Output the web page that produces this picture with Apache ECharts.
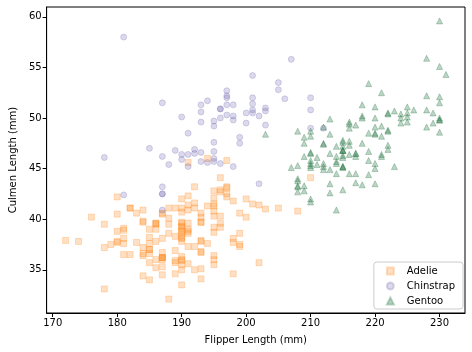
<!DOCTYPE html>
<html>
<head>
<meta charset="utf-8">
<script src="https://cdn.jsdelivr.net/npm/echarts@6/dist/echarts.min.js"></script>
<style>
  html, body { margin: 0; padding: 0; background: #fff; }
  #chart { width: 472px; height: 352px; }
</style>
</head>
<body>
<div id="chart"></div>
<script>
// Adelie
const adelieFlipper = [181,186,195,193,190,181,195,193,190,186,180,182,191,198,185,195,197,184,194,
  174,180,189,185,180,187,183,187,172,180,
  178,178,188,184,195,196,190,180,181,184,182,195,186,196,185,190,182,179,190,191,
  186,188,190,200,187,191,186,193,181,194,185,195,185,192,184,192,195,188,
  190,198,190,190,196,197,190,195,191,184,187,195,189,196,187,193,
  191,194,190,189,189,190,202,205,185,186,187,208,190,196,178,192,
  192,203,183,190,193,184,199,190,181,197,198,191,193,197,191,196,
  188,199,189,189,187,198,176,202,186,199,191,195,191,210,190,197,
  193,199,187,190,191,200,185,193,193,187,188,190,192,185,190,184,195,193,187,201];
const adelieCulmen = [39.1,39.5,40.3,36.7,39.3,38.9,39.2,34.1,42.0,37.8,37.8,41.1,38.6,34.6,36.6,38.7,42.5,34.4,46.0,
  37.8,37.7,35.9,38.2,38.8,35.3,40.6,40.5,37.9,40.5,
  39.5,37.2,39.5,40.9,36.4,39.2,38.8,42.2,37.6,39.8,36.5,40.8,36.0,44.1,37.0,39.6,41.1,37.5,36.0,42.3,
  39.6,40.1,35.0,42.0,34.5,41.4,39.0,40.6,36.5,37.6,35.7,41.3,37.6,41.1,36.4,41.6,35.5,41.1,
  35.9,41.8,33.5,39.7,39.6,45.8,35.5,42.8,40.9,37.2,36.2,42.1,34.6,42.9,36.7,35.1,
  37.3,41.3,36.3,36.9,38.3,38.9,35.7,41.1,34.0,39.6,36.2,40.8,38.1,40.3,33.1,43.2,
  35.0,41.0,37.7,37.8,37.9,39.7,38.6,38.2,38.1,43.2,38.1,45.6,39.7,42.2,39.6,42.7,
  38.6,37.3,35.7,41.1,36.2,37.7,40.2,41.4,35.2,40.6,38.8,41.5,39.0,44.1,38.5,43.1,
  36.8,37.5,38.1,41.1,35.6,40.2,37.0,39.7,40.2,40.6,32.1,40.7,37.3,39.0,39.2,36.6,36.0,37.8,36.0,41.5];

// Chinstrap
const chinstrapFlipper = [192,196,193,188,197,198,178,197,195,198,193,194,185,201,190,201,197,181,190,195,
  181,191,187,193,195,197,200,200,191,205,187,201,187,203,195,199,195,210,192,205,
  210,187,196,196,196,201,190,212,187,198,199,201,193,203,187,197,191,203,202,194,
  206,189,195,207,202,193,210,198];
const chinstrapCulmen = [46.5,50.0,51.3,45.4,52.7,45.2,46.1,51.3,46.0,51.3,46.6,51.7,47.0,52.0,45.9,50.5,50.3,58.0,46.4,49.2,
  42.4,48.5,43.2,50.6,46.7,52.0,50.5,49.5,46.4,52.8,40.9,54.2,42.5,51.0,49.7,47.5,47.6,52.0,46.9,53.5,
  49.0,46.2,50.9,45.5,50.9,50.8,50.1,49.0,51.5,49.8,48.1,51.4,45.7,50.7,42.5,52.2,45.2,49.3,50.2,45.6,
  51.9,46.8,45.7,55.8,43.5,49.6,50.8,50.2];

// Gentoo
const gentooFlipper = [211,230,210,218,215,210,211,219,209,215,214,216,214,213,210,217,210,221,209,222,
  218,215,213,215,215,215,216,215,210,220,222,209,207,230,220,220,213,219,208,208,
  208,225,210,216,222,217,210,225,213,215,210,220,210,225,217,220,208,220,208,224,
  208,221,214,231,219,230,214,229,220,223,216,221,221,217,216,230,209,220,215,223,
  212,221,212,224,212,228,218,218,212,230,218,228,212,224,214,226,216,222,203,225,
  219,228,215,228,216,215,210,219,208,209,229,230,213,230,217,230,217,222,214,215,
  222,212,213];
const gentooCulmen = [46.1,50.0,48.7,50.0,47.6,46.5,45.4,46.7,43.3,46.8,40.9,49.0,45.5,48.4,45.8,49.3,42.0,49.2,46.2,48.7,
  50.2,45.1,46.5,46.3,42.9,46.1,44.5,47.8,48.2,50.0,47.3,42.8,45.1,59.6,49.1,48.4,42.6,44.4,44.0,48.7,
  42.7,49.6,45.3,49.6,50.5,43.6,45.5,50.5,44.9,45.2,46.6,48.5,45.1,50.1,46.5,45.0,43.8,45.5,43.2,50.4,
  45.3,46.2,45.7,54.3,45.8,49.8,46.2,49.5,43.5,50.7,47.7,46.4,48.2,46.5,46.4,48.6,47.5,51.1,45.2,45.2,
  49.1,52.5,47.4,50.0,44.9,50.8,43.4,51.3,47.5,52.1,47.5,52.2,45.5,49.5,44.5,50.8,49.4,46.9,48.4,51.1,
  48.5,55.9,47.2,49.1,47.3,46.8,41.7,53.4,43.3,48.1,50.5,49.8,43.5,51.5,46.2,55.1,44.5,48.8,47.2,46.8,
  50.4,45.2,49.9];

const xTicks = [170, 180, 190, 200, 210, 220, 230];
const yTicks = [35, 40, 45, 50, 55, 60];

const font = 'DejaVu Sans';

function pairs(xs, ys) {
  return xs.map((x, i) => [x, ys[i]]);
}

function makeSeries(name, xs, ys, symbol, color) {
  return {
    name: name,
    type: 'scatter',
    symbol: symbol,
    symbolSize: 6,
    data: pairs(xs, ys),
    itemStyle: { color: color, borderColor: color, borderWidth: 1 },
    emphasis: { disabled: true },
    animation: false
  };
}

const chart = echarts.init(document.getElementById('chart'));
chart.setOption({
  animation: false,
  grid: {
    left: 42, right: 7, top: 7, bottom: 39,
    show: true, borderColor: '#000', borderWidth: 1
  },
  xAxis: {
    type: 'value',
    min: 169.05, max: 233.95,
    name: 'Flipper Length (mm)',
    nameLocation: 'middle',
    nameGap: 22,
    nameTextStyle: { fontFamily: font, fontSize: 10, color: '#000' },
    splitLine: { show: false },
    axisLine: { show: true, lineStyle: { color: '#000', width: 1 } },
    axisTick: { show: true, length: 4, customValues: xTicks, lineStyle: { color: '#000' } },
    axisLabel: { customValues: xTicks, fontFamily: font, fontSize: 10, color: '#000', margin: 5 }
  },
  yAxis: {
    type: 'value',
    min: 30.725, max: 60.975,
    name: 'Culmen Length (mm)',
    nameLocation: 'middle',
    nameGap: 27,
    nameTextStyle: { fontFamily: font, fontSize: 10, color: '#000' },
    splitLine: { show: false },
    axisLine: { show: true, lineStyle: { color: '#000', width: 1 } },
    axisTick: { show: true, length: 4, customValues: yTicks, lineStyle: { color: '#000' } },
    axisLabel: { customValues: yTicks, fontFamily: font, fontSize: 10, color: '#000', margin: 5 }
  },
  legend: {
    orient: 'vertical',
    right: 9,
    bottom: 43,
    itemWidth: 7,
    itemHeight: 7,
    itemGap: 5,
    padding: [4, 8, 3, 12],
    borderColor: '#ccc',
    borderWidth: 1,
    borderRadius: 3,
    backgroundColor: 'rgba(255,255,255,0.8)',
    textStyle: { fontFamily: font, fontSize: 10, color: '#000', padding: [0, 0, 0, 8] },
    data: ['Adelie', 'Chinstrap', 'Gentoo']
  },
  series: [
    makeSeries('Adelie', adelieFlipper, adelieCulmen, 'rect', 'rgba(255,127,14,0.3)'),
    makeSeries('Chinstrap', chinstrapFlipper, chinstrapCulmen, 'circle', 'rgba(117,112,179,0.33)'),
    makeSeries('Gentoo', gentooFlipper, gentooCulmen, 'triangle', 'rgba(27,110,60,0.36)')
  ]
});
</script>
</body>
</html>
